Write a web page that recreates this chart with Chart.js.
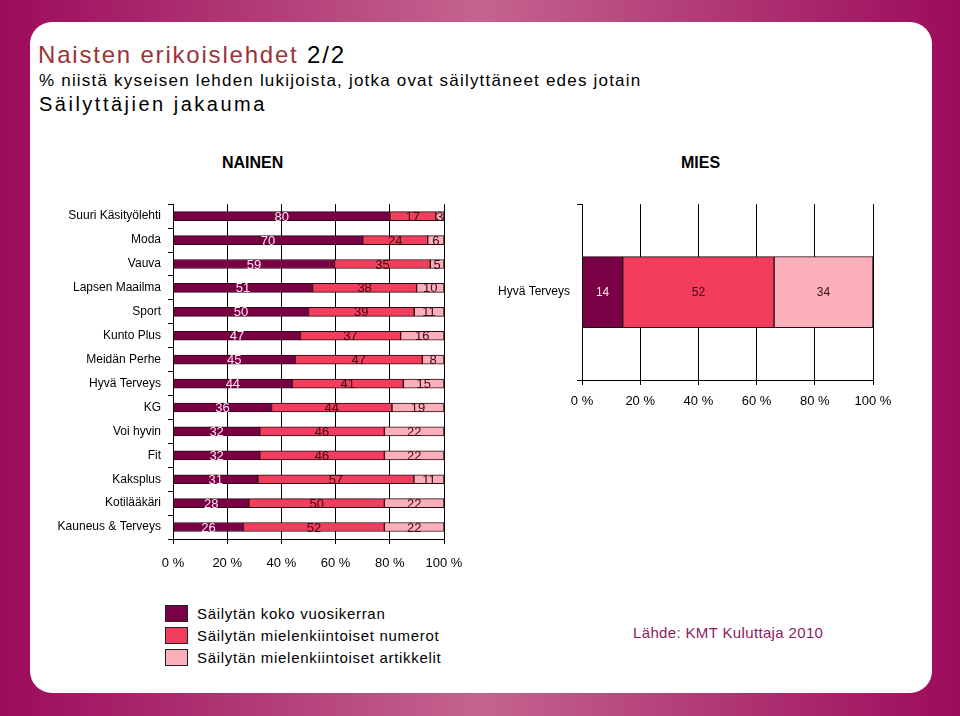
<!DOCTYPE html>
<html>
<head>
<meta charset="utf-8">
<script src="https://cdn.jsdelivr.net/npm/chart.js@4"></script>
<style>
  body { margin: 0; width: 960px; height: 716px; overflow: hidden;
         background: linear-gradient(90deg, #9c0b5b 0%, #c4648f 50%, #9c0b5b 100%);
         font-family: "Liberation Sans", Arial, sans-serif; }
  #panel { position: absolute; left: 30px; top: 22px; width: 902px; height: 671px;
           background: #fff; border-radius: 22px; }
  .txt { position: absolute; line-height: 1; white-space: nowrap; }
  .sq { position: absolute; left: 165px; width: 21px; height: 15px; border: 1px solid #222; }
  canvas { position: absolute; }
</style>
</head>
<body>
<div id="panel"></div>
<div class="txt" style="left:38px; top:43px; font-size:24px; letter-spacing:1.8px; color:#9b3436;">Naisten erikoislehdet <span style="color:#000">2/2</span></div>
<div class="txt" style="left:39px; top:72px; font-size:17px; letter-spacing:1.2px; color:#000;">% niistä kyseisen lehden lukijoista, jotka ovat säilyttäneet edes jotain</div>
<div class="txt" style="left:39px; top:94px; font-size:20px; letter-spacing:2.5px; color:#000;">Säilyttäjien jakauma</div>

<div class="txt" style="left:222px; top:155px; font-size:16px; font-weight:bold;">NAINEN</div>
<div class="txt" style="left:681px; top:155px; font-size:16px; font-weight:bold;">MIES</div>

<canvas id="naiset" width="440" height="390" style="left:40px; top:190px;"></canvas>
<canvas id="miehet" width="430" height="230" style="left:480px; top:190px;"></canvas>

<div class="sq" style="top:605px; background:#7a0046;"></div>
<div class="sq" style="top:627px; background:#f23e5c;"></div>
<div class="sq" style="top:649px; background:#fbafb9;"></div>
<div class="txt" style="left:197px; top:606px; font-size:15px; letter-spacing:0.7px;">Säilytän koko vuosikerran</div>
<div class="txt" style="left:197px; top:628px; font-size:15px; letter-spacing:0.7px;">Säilytän mielenkiintoiset numerot</div>
<div class="txt" style="left:197px; top:650px; font-size:15px; letter-spacing:0.7px;">Säilytän mielenkiintoiset artikkelit</div>
<div class="txt" style="left:633px; top:625px; font-size:15px; letter-spacing:0.35px; color:#8b1a5e;">Lähde: KMT Kuluttaja 2010</div>

<script>
const seriesNames = ['Säilytän koko vuosikerran', 'Säilytän mielenkiintoiset numerot', 'Säilytän mielenkiintoiset artikkelit'];
const colors = ['#7a0046', '#f23e5c', '#fbafb9'];

// NAINEN
const lehdet = ['Suuri Käsityölehti', 'Moda', 'Vauva', 'Lapsen Maailma', 'Sport', 'Kunto Plus', 'Meidän Perhe',
  'Hyvä Terveys', 'KG', 'Voi hyvin', 'Fit', 'Kaksplus', 'Kotilääkäri', 'Kauneus & Terveys'];
const koko = [80, 70, 59, 51, 50, 47, 45, 44, 36, 32, 32, 31, 28, 26];
const numerot = [17, 24, 35, 38, 39, 37, 47, 41, 44, 46, 46, 57, 50, 52];
const artikkelit = [3, 6, 5, 10, 11, 16, 8, 15, 19, 22, 22, 11, 22, 22];

// MIES
const lehdetM = ['Hyvä Terveys'];
const kokoM = [14];
const numerotM = [52];
const artikkelitM = [34];

const xTicks = [0, 20, 40, 60, 80, 100];

const FONT = '"Liberation Sans", Arial, sans-serif';

// 100 % stacked: scale every row to its own total
function datasets(rows) {
  const n = rows[0].length;
  const totals = [];
  for (let j = 0; j < n; j++) totals.push(rows[0][j] + rows[1][j] + rows[2][j]);
  return rows.map((r, i) => ({
    label: seriesNames[i],
    data: r.map((v, j) => v / totals[j] * 100),
    shown: r,
    backgroundColor: colors[i],
    borderColor: '#2a0a14',
    borderWidth: 1,
    borderSkipped: false
  }));
}

const barLabels = {
  id: 'barLabels',
  afterDatasetsDraw(chart, args, opts) {
    const ctx = chart.ctx;
    ctx.save();
    ctx.font = opts.size + 'px ' + FONT;
    ctx.textAlign = 'center';
    ctx.textBaseline = 'middle';
    chart.data.datasets.forEach((ds, i) => {
      chart.getDatasetMeta(i).data.forEach((bar, j) => {
        ctx.fillStyle = i === 0 ? '#ffe6f0' : '#3a0a14';
        ctx.fillText(ds.shown[j], (bar.x + bar.base) / 2, bar.y + 1);
      });
    });
    ctx.restore();
  }
};

function makeChart(id, labels, rows, o) {
  return new Chart(document.getElementById(id), {
    type: 'bar',
    data: { labels: labels, datasets: datasets(rows) },
    plugins: [barLabels],
    options: {
      indexAxis: 'y',
      responsive: false,
      animation: false,
      barThickness: o.thick,
      layout: { padding: { top: o.top, right: o.right, left: 0, bottom: 0 } },
      plugins: {
        legend: { display: false },
        tooltip: { enabled: false },
        barLabels: { size: o.labelSize }
      },
      scales: {
        x: {
          stacked: true, min: 0, max: 100,
          afterBuildTicks: s => { s.ticks = xTicks.map(v => ({ value: v })); },
          afterFit: s => { s.height = o.xh; },
          grid: { color: '#000', lineWidth: 1, tickLength: 5 },
          border: { color: '#000' },
          ticks: { color: '#000', padding: o.xpad, font: { family: FONT, size: 13 }, callback: v => v + ' %' }
        },
        y: {
          stacked: true,
          afterFit: s => { s.width = o.yw; },
          grid: { drawOnChartArea: false, color: '#000', tickLength: 5 },
          border: { color: '#000' },
          ticks: { color: '#000', padding: 7, font: { family: FONT, size: 12 } }
        }
      }
    }
  });
}

makeChart('naiset', lehdet, [koko, numerot, artikkelit],
  { thick: 9, top: 8, right: 36, xh: 41, yw: 133, xpad: 12, labelSize: 13 });
makeChart('miehet', lehdetM, [kokoM, numerotM, artikkelitM],
  { thick: 71, top: 10, right: 37, xh: 40, yw: 102, xpad: 9, labelSize: 12 });
</script>
</body>
</html>
